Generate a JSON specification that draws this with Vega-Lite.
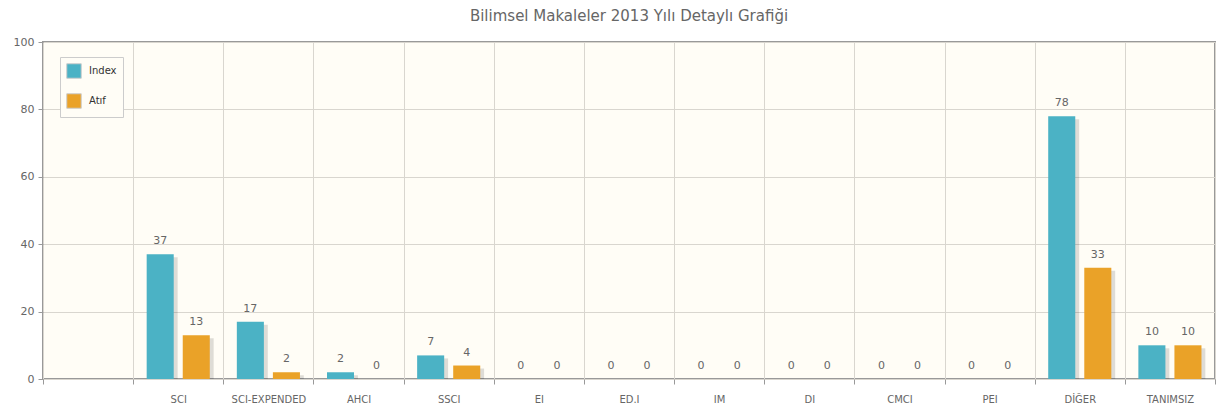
{
  "$schema": "https://vega.github.io/schema/vega-lite/v6.json",
  "autosize": {"type": "none"},
  "width": 1172,
  "height": 337,
  "padding": {"left": 43, "top": 42, "right": 6, "bottom": 33},
  "background": "white",
  "title": {"text": "Bilimsel Makaleler 2013 Yılı Detaylı Grafiği", "fontSize": 15, "font": "DejaVu Sans", "fontWeight": "normal", "color": "#666666", "offset": 12, "anchor": "middle"},
  "config": {
    "view": {"fill": "#fffdf6", "stroke": "#999999", "strokeWidth": 2},
    "font": "DejaVu Sans"
  },
  "data": {"values": [
    {"kategori": "SCI", "seri": "Index", "deger": 37},
    {"kategori": "SCI", "seri": "Atıf", "deger": 13},
    {"kategori": "SCI-EXPENDED", "seri": "Index", "deger": 17},
    {"kategori": "SCI-EXPENDED", "seri": "Atıf", "deger": 2},
    {"kategori": "AHCI", "seri": "Index", "deger": 2},
    {"kategori": "AHCI", "seri": "Atıf", "deger": 0},
    {"kategori": "SSCI", "seri": "Index", "deger": 7},
    {"kategori": "SSCI", "seri": "Atıf", "deger": 4},
    {"kategori": "EI", "seri": "Index", "deger": 0},
    {"kategori": "EI", "seri": "Atıf", "deger": 0},
    {"kategori": "ED.I", "seri": "Index", "deger": 0},
    {"kategori": "ED.I", "seri": "Atıf", "deger": 0},
    {"kategori": "IM", "seri": "Index", "deger": 0},
    {"kategori": "IM", "seri": "Atıf", "deger": 0},
    {"kategori": "DI", "seri": "Index", "deger": 0},
    {"kategori": "DI", "seri": "Atıf", "deger": 0},
    {"kategori": "CMCI", "seri": "Index", "deger": 0},
    {"kategori": "CMCI", "seri": "Atıf", "deger": 0},
    {"kategori": "PEI", "seri": "Index", "deger": 0},
    {"kategori": "PEI", "seri": "Atıf", "deger": 0},
    {"kategori": "DİĞER", "seri": "Index", "deger": 78},
    {"kategori": "DİĞER", "seri": "Atıf", "deger": 33},
    {"kategori": "TANIMSIZ", "seri": "Index", "deger": 10},
    {"kategori": "TANIMSIZ", "seri": "Atıf", "deger": 10}
  ]},
  "encoding": {
    "x": {"field": "kategori", "type": "nominal", "sort": null,
      "scale": {"domain": [" ", "SCI", "SCI-EXPENDED", "AHCI", "SSCI", "EI", "ED.I", "IM", "DI", "CMCI", "PEI", "DİĞER", "TANIMSIZ"], "paddingInner": 0, "paddingOuter": 0},
      "axis": {"title": null, "labelAngle": 0, "tickBand": "extent", "grid": true, "gridColor": "#d9d6cf", "gridWidth": 1, "domain": false, "ticks": true, "tickColor": "#999999", "tickSize": 5, "labelColor": "#666666", "labelFontSize": 10, "labelPadding": 10}},
    "y": {"field": "deger", "type": "quantitative",
      "scale": {"domain": [0, 100], "nice": false},
      "axis": {"title": null, "values": [0, 20, 40, 60, 80, 100], "grid": true, "gridColor": "#d9d6cf", "domain": false, "tickColor": "#999999", "tickSize": 5, "labelColor": "#666666", "labelFontSize": 11, "labelPadding": 4}}
  },
  "resolve": {"scale": {"xOffset": "independent"}},
  "layer": [
    {
      "mark": {"type": "bar", "color": "#000000", "opacity": 0.13, "yOffset": 3, "clip": true},
      "encoding": {
        "xOffset": {"field": "seri", "type": "nominal", "sort": ["Index", "Atıf"], "scale": {"domain": ["Index", "Atıf"], "paddingInner": 0.25, "paddingOuter": 0.375, "range": [4, 94]}}
      }
    },
    {
      "mark": {"type": "bar"},
      "encoding": {
        "xOffset": {"field": "seri", "type": "nominal", "sort": ["Index", "Atıf"], "scale": {"domain": ["Index", "Atıf"], "paddingInner": 0.25, "paddingOuter": 0.375}},
        "color": {"field": "seri", "type": "nominal", "sort": ["Index", "Atıf"],
          "scale": {"domain": ["Index", "Atıf"], "range": ["#4bb2c5", "#eaa228"]},
          "legend": {"title": null, "orient": "none", "legendX": 17, "legendY": 15, "symbolType": "square", "symbolSize": 210, "symbolStrokeColor": "#cccccc", "symbolStrokeWidth": 1, "labelFontSize": 10, "labelColor": "#333333", "rowPadding": 10, "padding": 6, "strokeColor": "#cccccc", "fillColor": "#fffdf6", "labelOffset": 7}}
      }
    },
    {
      "mark": {"type": "text", "baseline": "bottom", "dy": -8, "fontSize": 11, "color": "#666666"},
      "encoding": {
        "xOffset": {"field": "seri", "type": "nominal", "sort": ["Index", "Atıf"], "scale": {"type": "band", "domain": ["Index", "Atıf"], "paddingInner": 0.25, "paddingOuter": 0.375}},
        "text": {"field": "deger", "type": "quantitative"}
      }
    }
  ]
}
